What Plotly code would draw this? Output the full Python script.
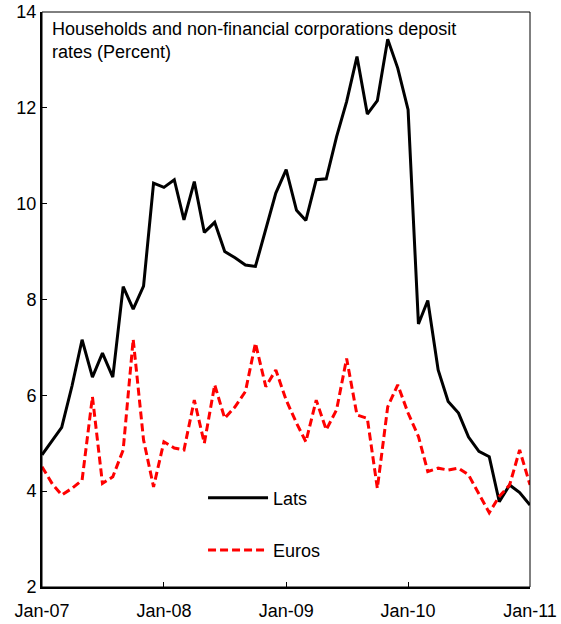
import plotly.graph_objects as go
import pandas as pd

months = pd.date_range("2007-01-01", "2011-01-01", freq="MS").strftime("%Y-%m-%d").tolist()

lats = [4.76, 5.05, 5.33, 6.2, 7.16, 6.38, 6.88, 6.38, 8.27, 7.80,
        8.28, 10.43, 10.34, 10.50, 9.66, 10.46, 9.40, 9.61, 9.00, 8.87,
        8.72, 8.69, 9.45, 10.22, 10.71, 9.86, 9.65, 10.50, 10.52, 11.40,
        12.13, 13.07, 11.87, 12.15, 13.43, 12.83, 11.96, 7.49, 7.98, 6.53,
        5.87, 5.63, 5.13, 4.83, 4.72, 3.78, 4.13, 3.97, 3.71]

euros = [4.51, 4.15, 3.92, 4.06, 4.23, 5.97, 4.16, 4.30, 4.86, 7.17,
         5.07, 4.09, 5.03, 4.90, 4.86, 5.90, 5.00, 6.22, 5.52, 5.76,
         6.08, 7.09, 6.18, 6.53, 5.90, 5.42, 5.03, 5.90, 5.28, 5.70,
         6.77, 5.59, 5.52, 4.06, 5.76, 6.22, 5.63, 5.14, 4.41, 4.48,
         4.44, 4.48, 4.34, 3.96, 3.55, 3.89, 4.13, 4.86, 4.13]

tick_vals = ["2007-01-01", "2008-01-01", "2009-01-01", "2010-01-01", "2011-01-01"]
tick_text = ["Jan-07", "Jan-08", "Jan-09", "Jan-10", "Jan-11"]
y_ticks = [2, 4, 6, 8, 10, 12, 14]

title_text = "Households and non-financial corporations deposit<br>rates (Percent)"

FONT = "Arial, Liberation Sans, sans-serif"

fig = go.Figure()
fig.add_trace(go.Scatter(x=months, y=lats, mode="lines", name="Lats",
                         legendgroup="a",
                         line=dict(color="black", width=3)))
fig.add_trace(go.Scatter(x=months, y=euros, mode="lines", name="Euros",
                         legendgroup="b",
                         line=dict(color="#ff0000", width=3, dash="8px,4px")))

fig.update_layout(
    width=561, height=624,
    margin=dict(l=42, r=31, t=12, b=37),
    paper_bgcolor="white", plot_bgcolor="white",
    font=dict(family=FONT, size=18, color="black"),
    showlegend=True,
    legend=dict(x=0.330, y=0.187, xanchor="left", yanchor="top",
                bgcolor="rgba(0,0,0,0)", tracegroupgap=26,
                traceorder="grouped", itemwidth=60,
                font=dict(family=FONT, size=18)),
    xaxis=dict(range=["2007-01-01", "2011-01-01"], tickvals=tick_vals,
               ticktext=tick_text, ticks="inside", ticklen=5, tickwidth=1,
               tickcolor="black", showline=True, linewidth=2, linecolor="black",
               showgrid=False, zeroline=False, automargin=False,
               ticklabelstandoff=6,
               tickfont=dict(family=FONT, size=18)),
    yaxis=dict(range=[2, 14], tickvals=y_ticks, ticks="inside", ticklen=5,
               tickwidth=1, tickcolor="black", showline=True, linewidth=2,
               linecolor="black", showgrid=False, zeroline=False, automargin=False,
               tickfont=dict(family=FONT, size=18)),
    shapes=[dict(type="rect", xref="paper", yref="paper", x0=0, y0=0, x1=1, y1=1,
                 line=dict(color="black", width=1), layer="above")],
    annotations=[dict(text=title_text, xref="paper", yref="paper", x=0.016, y=0.991,
                      xanchor="left", yanchor="top", align="left", showarrow=False,
                      font=dict(family=FONT, size=18, color="black"))],
)

fig.write_html("out.html", config={"displayModeBar": False},
               post_script="document.body.style.margin='0';")
